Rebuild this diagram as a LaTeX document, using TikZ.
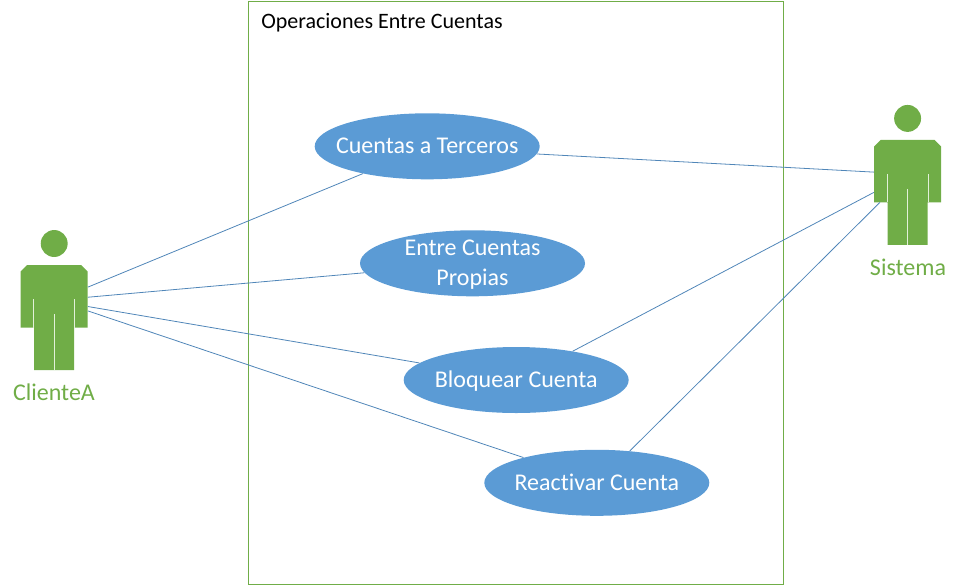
\documentclass[tikz,border=0pt]{standalone}
\usepackage{fontspec}
\setmainfont{Carlito}[Ligatures=NoCommon]
\usetikzlibrary{shapes.geometric}

\definecolor{actorgreen}{RGB}{112,173,71}
\definecolor{gapgreen}{RGB}{226,240,217}
\definecolor{caseblue}{RGB}{91,155,213}
\definecolor{linkblue}{RGB}{80,134,184}

% text without a size of its own, so that the ellipse keeps its minimum size
\newcommand{\caseline}[1]{\raisebox{-0.32em}[0pt][0pt]{\makebox[0pt]{#1}}}

\tikzset{
  usecase/.style={ellipse,fill=caseblue,text=white,inner sep=0pt,minimum width=168.75pt,minimum height=49.5pt,align=center,font=\fontsize{18}{22.5}\selectfont},
  actorname/.style={inner sep=0pt,text=actorgreen,font=\fontsize{18}{22.5}\selectfont},
  link/.style={draw=linkblue,line width=0.6pt},
  actor/.pic={
    \fill [actorgreen] (0,-74) circle [radius=10.1pt];
    \fill [actorgreen] (-27,-52.5) -- (27,-52.5) -- (33.5,-46) -- (33.5,10) -- (20,10) -- (20,52.5) -- (-20,52.5) -- (-20,10) -- (-33.5,10) -- (-33.5,-46) -- cycle;
    \draw [gapgreen,line width=0.6pt] (-20.5,-18.5) -- (-20.5,10) (20.5,-18.5) -- (20.5,10) (0,-3.5) -- (0,52.5);
    \node (-body) [inner sep=0pt,minimum width=50.25pt,minimum height=78.75pt] at (0,0) {};
  }
}

\begin{document}
\begin{tikzpicture}[x=0.75pt,y=-0.75pt]
\useasboundingbox (0,0) rectangle (959,586);

%Shape: Rectangle
\draw [actorgreen,line width=0.7pt] (248.5,1) rectangle (783.5,584);

%Use cases
\node (cuentas) [usecase] at (427.2,146.3) {\caseline{Cuentas a Terceros}};
\node (entre) [usecase] at (472.5,263.3) {\caseline{Entre Cuentas}\\\caseline{Propias}};
\node (bloquear) [usecase] at (516.2,380) {\caseline{Bloquear Cuenta}};
\node (reactivar) [usecase] at (596.8,482.8) {\caseline{Reactivar Cuenta}};

%Actors
\pic (clienteA) at (54.2,317.5) {actor};
\pic (sistema) at (907.6,192.4) {actor};
\coordinate (sistemaArm) at (880,202.3);

% Text Node
\node (titulo) [anchor=west,inner sep=0pt,font=\fontsize{16.5}{20}\selectfont] at (261,23) {Operaciones Entre Cuentas};
\node (nameA) [actorname] at (54,392.5) {ClienteA};
\node (nameS) [actorname] at (908,267.5) {Sistema};

%Lines
\draw [link] (clienteA-body.42.6) -- (cuentas.203);
\draw [link] (clienteA-body.31.1) -- (entre.185.2);
\draw [link] (clienteA-body.18.9) -- (bloquear.170.3);
\draw [link] (clienteA-body.11.5) -- (reactivar.161.2);
\draw [link] (cuentas.356.6) -- (sistema-body.149.4);
\draw [link] (bloquear.27.6) -- (sistema-body.180.5);
\draw [link] (reactivar.44.7) -- (sistemaArm);

\end{tikzpicture}
\end{document}
